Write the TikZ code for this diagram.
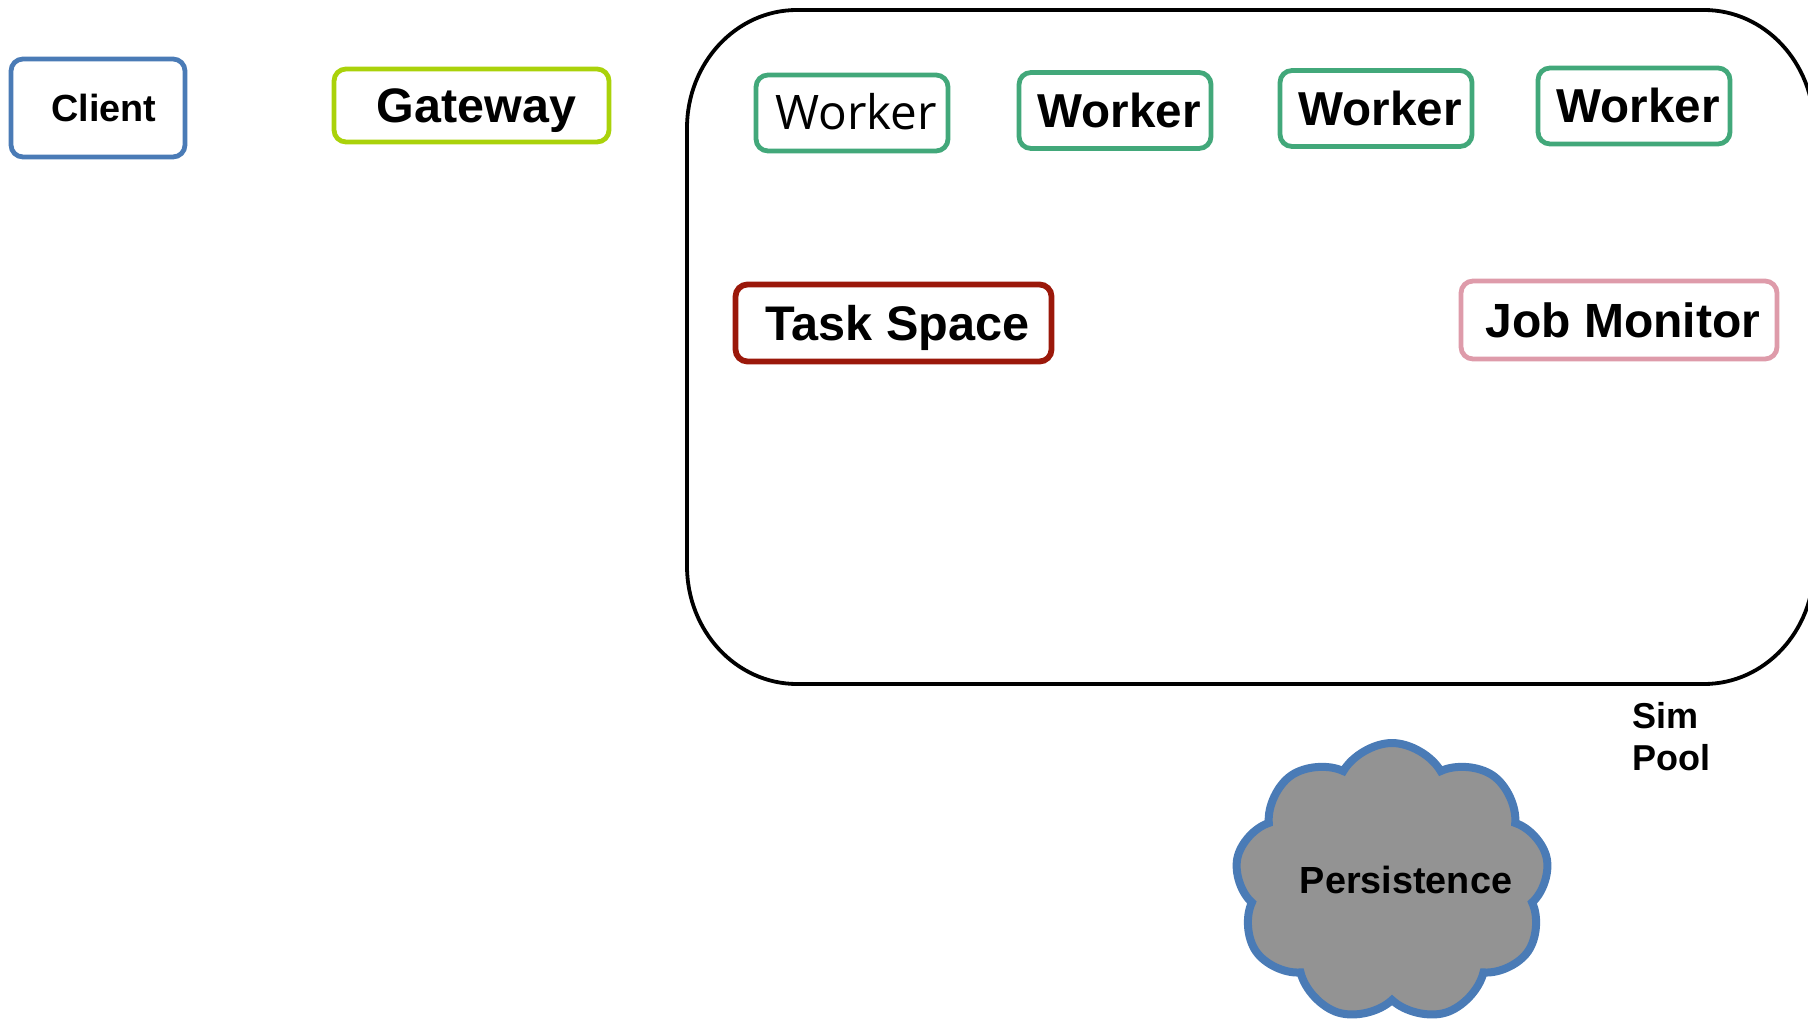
\documentclass[tikz,border=0pt]{standalone}
\usepackage{fontspec}
\setmainfont{Liberation Sans}
\newfontfamily\lightsans{Open Sans}
\usetikzlibrary{shapes.symbols}

\definecolor{clientblue}{RGB}{74,123,182}
\definecolor{gatewaygreen}{RGB}{170,210,10}
\definecolor{workergreen}{RGB}{66,168,122}
\definecolor{taskred}{RGB}{155,24,10}
\definecolor{monitorpink}{RGB}{222,155,170}
\definecolor{cloudgray}{RGB}{147,147,147}

\tikzset{
  box/.style={draw, line width=2.4pt, rounded corners=6pt, fill=white,
    inner sep=0pt, text depth=0pt},
  workerbox/.style={box, draw=workergreen, minimum width=96pt, minimum height=38pt,
    font=\bfseries\fontsize{23.8}{26}\selectfont, text height=17pt},
}

\begin{document}
\begin{tikzpicture}[x=0.5pt, y=-0.5pt]
  \useasboundingbox (0,0) rectangle (1808,1026);
  \clip (0,0) rectangle (1808,1026);

  % Sim pool frame with elliptical corners
  \draw[line width=1.9pt]
    (687,128) arc[start angle=180, end angle=90, x radius=55pt, y radius=59pt]
    -- (1704,10) arc[start angle=90, end angle=0, x radius=55pt, y radius=59pt]
    -- (1814,566) arc[start angle=0, end angle=-90, x radius=55pt, y radius=59pt]
    -- (797,684) arc[start angle=-90, end angle=-180, x radius=55pt, y radius=59pt]
    -- cycle;

  \node[box, draw=clientblue, minimum width=87pt, minimum height=49pt, text height=13.5pt,
        font=\bfseries\fontsize{18.9}{22}\selectfont] (client) at (98,108) {\hspace*{6pt}Client};
  \node[box, draw=gatewaygreen, minimum width=137.5pt, minimum height=36.5pt, text height=17.3pt,
        font=\bfseries\fontsize{24.2}{27}\selectfont] (gateway) at (471.5,105.5) {\hspace*{5pt}Gateway};

  \node[workerbox, font=\lightsans\fontsize{23.8}{26}\selectfont] (w1) at (852,113) {\hspace*{4pt}Worker};
  \node[workerbox] (w2) at (1115,110.5) {\hspace*{4pt}Worker};
  \node[workerbox] (w3) at (1376,108.5) {\hspace*{4pt}Worker};
  \node[workerbox] (w4) at (1634,106) {\hspace*{4pt}Worker};

  \node[box, draw=taskred, line width=2.9pt, minimum width=158pt, minimum height=38.5pt, text height=17.4pt,
        font=\bfseries\fontsize{24.3}{27}\selectfont] (task) at (893.5,323) {\hspace*{4pt}Task Space};
  \node[box, draw=monitorpink, minimum width=158pt, minimum height=39pt, text height=17.2pt,
        font=\bfseries\fontsize{24}{27}\selectfont] (monitor) at (1619,320) {\hspace*{4pt}Job Monitor};

  \node[cloud, cloud puffs=9, cloud puff arc=120, aspect=1.1,
        draw=clientblue, line width=4pt, fill=cloudgray,
        minimum width=157pt, minimum height=139pt, inner sep=0pt,
        label={[xshift=7pt, yshift=1pt, font=\bfseries\fontsize{18.9}{22}\selectfont]center:Persistence}]
        (persist) at (1392,882) {};

  \node[anchor=west, align=left, inner sep=0pt,
        font=\bfseries\fontsize{18}{21}\selectfont] (simpool) at (1632,737) {Sim\\Pool};
\end{tikzpicture}
\end{document}
